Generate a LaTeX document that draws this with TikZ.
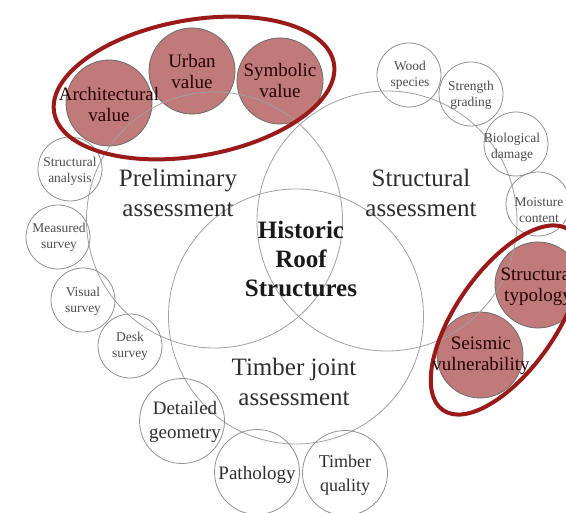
\documentclass[tikz,border=0pt]{standalone}
\usepackage{fontspec}
\setmainfont{Liberation Serif}
\definecolor{rosy}{HTML}{C07A7A}
\definecolor{ringred}{HTML}{9A1A1A}
\definecolor{txt}{HTML}{2E2E2E}
\definecolor{linegray}{HTML}{A0A0A0}
\begin{document}
\begin{tikzpicture}[x=1pt,y=-1pt,
  bigc/.style={circle, draw=linegray, line width=0.8pt, inner sep=0pt},
  smc/.style={circle, draw=linegray!90!black, line width=0.8pt, inner sep=0pt, minimum size=64pt},
  midc/.style={circle, draw=linegray!90!black, line width=0.8pt, inner sep=0pt, minimum size=85pt},
  hlc/.style={circle, draw=gray!85!black, fill=rosy, line width=0.8pt, inner sep=0pt, minimum size=86pt},
  ring/.style={draw=ringred, line width=4pt},
  biglbl/.style={align=center, text=txt, inner sep=0pt, font=\fontsize{25}{30}\selectfont},
  histlbl/.style={align=center, text=black!90, inner sep=0pt, font=\fontsize{25}{29}\selectfont\bfseries},
  smlbl/.style={align=center, text=txt!85, inner sep=0pt, font=\fontsize{13.5}{16}\selectfont},
  midlbl/.style={align=center, text=txt, inner sep=0pt, font=\fontsize{19}{24}\selectfont},
  hllbl/.style={align=center, text=black!85!red, inner sep=0pt, font=\fontsize{19}{21}\selectfont}
]
\useasboundingbox (0,0) rectangle (566,513);

% highlighted (filled) circles
\node[hlc] (arch) at (109,103) {};
\node[hlc] (urban) at (192,71) {};
\node[hlc] (symb) at (280,81) {};
\node[hlc] (styp) at (538,285) {};
\node[hlc] (seis) at (480,355) {};

% big circles
\node[bigc, minimum size=256pt] (prelim) at (214.5,220) {};
\node[bigc, minimum size=260pt] (struct) at (387,221) {};
\node[bigc, minimum size=255pt] (timber) at (296,316.5) {};

% small circles
\node[smc] (wood) at (409,75) {};
\node[smc] (strength) at (471,94) {};
\node[smc] (bio) at (516,144) {};
\node[smc] (moist) at (538,204) {};
\node[smc] (sanal) at (70,169) {};
\node[smc] (meas) at (58,237) {};
\node[smc] (vis) at (83,300) {};
\node[smc] (desk) at (130,346) {};
\node[midc] (detail) at (182,421) {};
\node[midc] (path) at (257,472) {};
\node[midc] (tq) at (345,473) {};

% red rings
\coordinate (ringA) at (194,88);
\coordinate (ringB) at (506,320);
\draw[ring, rotate around={10:(ringA)}] (ringA) ellipse [x radius=142pt, y radius=68pt];
\draw[ring, rotate around={55:(ringB)}] (ringB) ellipse [x radius=110pt, y radius=50pt];

% labels
\node[biglbl] (prelimT) at (178,193) {Preliminary\\assessment};
\node[biglbl] (structT) at (421,193) {Structural\\assessment};
\node[biglbl] (timberT) at (294,382) {Timber joint\\assessment};
\node[histlbl] (histT) at (301,259) {Historic\\Roof\\Structures};

\node[smlbl] (woodT) at (410,75) {Wood\\species};
\node[smlbl] (strengthT) at (471,95) {Strength\\grading};
\node[smlbl] (bioT) at (512,147) {Biological\\damage};
\node[smlbl] (moistT) at (539,210) {Moisture\\content};
\node[smlbl] (sanalT) at (70,171) {Structural\\analysis};
\node[smlbl] (measT) at (59,237) {Measured\\survey};
\node[smlbl] (visT) at (83,301) {Visual\\survey};
\node[smlbl] (deskT) at (130,346) {Desk\\survey};

\node[midlbl] (detailT) at (185,422) {Detailed\\geometry};
\node[midlbl] (pathT) at (257,475) {Pathology};
\node[midlbl, font=\fontsize{18}{24}\selectfont] (tqT) at (345,475) {Timber\\quality};

\node[hllbl] (archT) at (109,105) {Architectural\\value};
\node[hllbl] (urbanT) at (192,72) {Urban\\value};
\node[hllbl] (symbT) at (280,81) {Symbolic\\value};
\node[hllbl] (stypT) at (538,286) {Structural\\typology};
\node[hllbl] (seisT) at (481,356) {Seismic\\vulnerability};
\end{tikzpicture}
\end{document}
